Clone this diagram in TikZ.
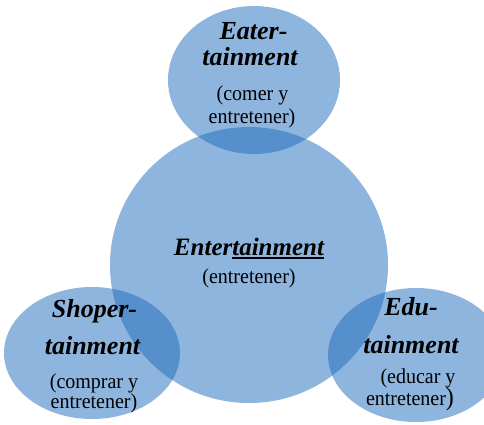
\documentclass[tikz,border=0pt]{standalone}
\usepackage{graphicx}
\usepackage{fontspec}
\setmainfont{Liberation Serif}
\definecolor{bubble}{RGB}{30,108,190}
\newcommand\myuline[1]{\setbox0\hbox{#1}\rlap{\rule[-4pt]{\wd0}{1.6pt}}\box0}
\newcommand\vst[1]{\scalebox{1}[1.06]{#1}}
\tikzset{
  bubblefill/.style={fill=bubble,fill opacity=0.5,draw=none},
  ttl/.style={anchor=base,inner sep=0pt,font=\fontsize{26}{28}\selectfont\bfseries\itshape},
  sub/.style={anchor=base,inner sep=0pt,font=\fontsize{20}{22}\selectfont}
}
\begin{document}
\begin{tikzpicture}[x=1pt,y=-1pt]
\useasboundingbox (0,0) rectangle (484,424);
\clip (0,0) rectangle (484,424);
\fill[white] (0,0) rectangle (484,424);
% bubbles
\path[bubblefill] (249,265) ellipse [x radius=139, y radius=138];
\path[bubblefill] (254,80) ellipse [x radius=86, y radius=74];
\path[bubblefill] (92,353) ellipse [x radius=88, y radius=66];
\path[bubblefill] (416,355) ellipse [x radius=88, y radius=67];
% top
\node[ttl] (t1) at (253.5,39) {Eater-};
\node[ttl] (t2) at (250,65) {tainment};
\node[sub] (t3) at (252.5,100) {\vst{(comer y}};
\node[sub] (t4) at (252,123) {\vst{entretener)}};
% centre
\node[ttl,font=\fontsize{25}{28}\selectfont\bfseries\itshape] (c1) at (249,255) {Enter\myuline{tainment}};
\node[sub] (c2) at (249,283) {\vst{(entretener)}};
% left
\node[ttl] (l1) at (94.5,317) {Shoper-};
\node[ttl] (l2) at (92.5,354) {tainment};
\node[sub] (l3) at (94,388) {\vst{(comprar y}};
\node[sub] (l4) at (94,408) {\vst{entretener)}};
% right
\node[ttl] (r1) at (411,315) {Edu-};
\node[ttl] (r2) at (411,353) {tainment};
\node[sub] (r3) at (418,383) {\vst{(educar y}};
\node[sub] (r4) at (410,405) {\vst{entretener{\fontsize{24}{24}\selectfont)}}};
\end{tikzpicture}
\end{document}
